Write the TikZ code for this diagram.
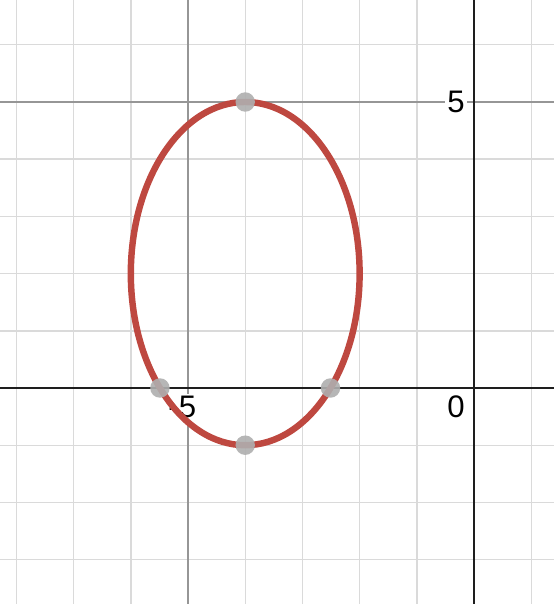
\documentclass[tikz,border=0pt]{standalone}
\usepackage{fontspec}
\setmainfont{Liberation Sans}
\usepackage{xcolor}
\usetikzlibrary{calc}
\definecolor{gMinor}{RGB}{218,218,218}
\definecolor{gMajor}{RGB}{150,150,150}
\definecolor{gAxis}{RGB}{30,30,30}
\definecolor{gCurve}{RGB}{190,72,64}
\definecolor{gDot}{RGB}{175,175,175}
\tikzset{
minorline/.style={draw=gMinor,line width=0.7pt},
majorline/.style={draw=gMajor,line width=0.9pt},
axisline/.style={draw=gAxis,line width=1.4pt},
ticklabel/.style={fill=white,inner sep=1pt,font=\fontsize{15.5}{17}\selectfont},
curve/.style={draw=gCurve,line width=3.2pt},
dot/.style={circle,fill=gDot,fill opacity=0.9,minimum size=0.34cm,inner sep=0pt}
}
\begin{document}
\begin{tikzpicture}
\useasboundingbox[fill=white] (-8.287,-3.776) rectangle (1.399,6.783);
% grid
\foreach \x in {-8,...,1} {\draw[minorline] (\x,-3.776) -- (\x,6.783);}
\foreach \y in {-3,...,6} {\draw[minorline] (-8.287,\y) -- (1.399,\y);}
\draw[majorline] (-5,-3.776) -- (-5,6.783);
\draw[majorline] (-8.287,5) -- (1.399,5);
% tick labels
\node[ticklabel,anchor=east] (ylab) at (-0.12,5) {5};
\node[ticklabel,anchor=north east] (zlab) at (-0.12,-0.1) {0};
\node[ticklabel,anchor=north] (xlab) at (-5.1,-0.1) {-5};
% axes
\draw[axisline] (-8.287,0) -- (1.399,0);
\draw[axisline] (0,-3.776) -- (0,6.783);
% ellipse
\draw[curve] (-4,2) ellipse [x radius=2,y radius=3];
% points
\node[dot] (top) at (-4,5) {};
\node[dot] (bottom) at (-4,-1) {};
\node[dot] (left) at (-5.491,0) {};
\node[dot] (right) at (-2.509,0) {};
\end{tikzpicture}
\end{document}
